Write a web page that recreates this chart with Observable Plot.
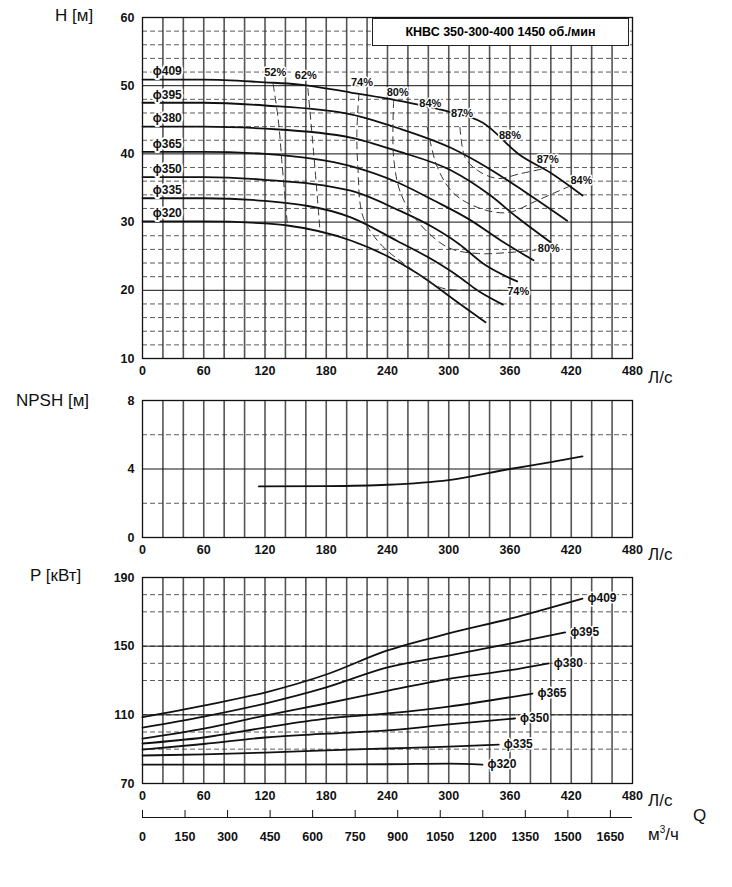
<!DOCTYPE html>
<html><head><meta charset="utf-8">
<script src="https://cdn.jsdelivr.net/npm/d3@7"></script>
<script src="https://cdn.jsdelivr.net/npm/@observablehq/plot@0.6"></script>
<style>
body{margin:0;background:#fff;font-family:"Liberation Sans",Arial,sans-serif}
#wrap{position:relative;width:732px;height:887px}
.p{position:absolute;left:0}
.lab{position:absolute;font-size:17px;color:#111;white-space:nowrap}
.box{position:absolute;left:372px;top:18px;width:255px;height:26px;border:1px solid #222;background:#fff;font-weight:bold;font-size:12.5px;line-height:26px;text-align:center}
</style></head><body><div id="wrap"></div>
<script>
const diameters = ["ϕ409","ϕ395","ϕ380","ϕ365","ϕ350","ϕ335","ϕ320"];
const headCurves = [
 [[0,50.9],[60,50.9],[120,50.5],[152,50.2],[204,49.0],[240,48.1],[300,46.2],[333,44.6],[370,39.8],[400,37.2],[431,33.9]],
 [[0,47.5],[60,47.5],[120,47.1],[204,45.8],[250,43.8],[302,40.9],[340,37.8],[373,34.6],[416,30.2]],
 [[0,44.0],[60,44.0],[120,43.7],[204,42.4],[250,40.4],[302,37.6],[340,34.0],[367,30.7],[400,27.0]],
 [[0,40.3],[60,40.3],[120,40.0],[204,38.2],[250,35.8],[285,33.2],[320,30.4],[351,27.3],[383,24.4]],
 [[0,36.6],[60,36.6],[120,36.2],[204,34.6],[250,31.8],[285,29.2],[310,26.8],[334,23.9],[367,21.3]],
 [[0,33.5],[60,33.5],[120,33.1],[204,30.7],[250,27.2],[285,24.4],[310,22.0],[328,20.0],[353,17.9]],
 [[0,30.1],[60,30.1],[120,29.8],[142,29.5],[204,27.3],[240,25.0],[269,22.5],[311,18.0],[336,15.3]]
];
const effNames = ["52%","62%","74%","80%","84%","87%"];
const effCurves = [
 [[128,50.2],[133,45],[137,38],[140,33],[142,29.4]],
 [[162,49.6],[166,43],[170,36],[174,28.5]],
 [[212,48.8],[210,43],[211,38],[216,30.8],[233,26.8],[260,23.5],[292,20.4],[320,20.0],[350,20.0]],
 [[246,47.8],[246,39.5],[253,34.2],[269,30.2],[299,26.3],[328,25.4],[355,25.5],[385,25.9]],
 [[279,43.9],[289,38],[305,34.2],[331,32.0],[358,31.4],[387,33.2],[416,35.1],[428,35.8]],
 [[311,43.9],[316,39.5],[328,37.6],[348,36.4],[370,37.1],[392,37.8]]
];
const effLabels = [["52%",130,51.9],["62%",160,51.5],["74%",215,50.5],["80%",250,49],["84%",282,47.4],["87%",313,45.9],["88%",360,42.7],["87%",397,39.2],["84%",430,36.1],["80%",398,26.1],["74%",368,19.8]];
const npsh = [[114,2.98],[180,3.0],[240,3.08],[300,3.35],[360,4.0],[400,4.4],[431,4.74]];
const powerCurves = [
 [[0,108.6],[60,115.4],[120,123],[180,133.5],[240,147.5],[300,157.4],[360,166],[431,177.7]],
 [[0,102.6],[60,109],[120,116.6],[180,126],[240,137.6],[300,144.5],[360,151.5],[414,158]],
 [[0,96.2],[60,102],[120,109.6],[180,116.6],[240,124],[300,131],[360,136],[398,140]],
 [[0,93.3],[60,96.8],[120,102.6],[180,107.8],[240,110.8],[300,114.8],[382,122.4]],
 [[0,89.8],[60,93],[120,96.8],[180,99],[240,100.9],[300,104.4],[365,107.9]],
 [[0,86.3],[60,87],[120,88],[180,89.3],[240,90.4],[300,91.5],[349,92.7]],
 [[0,81],[120,81],[240,81.2],[300,81.6],[333,81]]
];
const qTicks = d3.range(0,481,60);
const m3hTicks = d3.range(0,1651,150);

const W=732, ML=142, MR=100;
function grid(ymin,ymax,major,minor){
  return [
    Plot.ruleX(d3.range(20,480,20),{stroke:"#555",strokeWidth:1.6}),
    Plot.ruleY(d3.range(ymin,ymax+0.001,minor).filter(v=>Math.abs(v/major-Math.round(v/major))>1e-6),{stroke:"#333",strokeWidth:0.8,strokeDasharray:"5,3"}),
    Plot.ruleY(d3.range(ymin,ymax+0.001,major),{stroke:"#111",strokeWidth:1}),
    Plot.frame({stroke:"#111",strokeWidth:1.3})
  ];
}
const st={fontFamily:"Liberation Sans, Arial",fontWeight:"bold",fontSize:"12.5px",color:"#111",background:"transparent",overflow:"visible"};
function base(h,mt,mb,yd,yt){
  return {width:W,height:h,marginLeft:ML,marginRight:MR,marginTop:mt,marginBottom:mb,style:st,
    x:{domain:[0,480],ticks:qTicks,tickSize:0,label:null,tickPadding:8},
    y:{domain:yd,ticks:yt,tickSize:0,label:null,tickPadding:8}};
}
const wrap=document.getElementById("wrap");
function place(svg,top){svg.classList.add("p");svg.style.top=top+"px";wrap.appendChild(svg);}
const line = (d,o={})=>Plot.line(d,{x:d=>d[0],y:d=>d[1],curve:"monotone-x",stroke:"#111",strokeWidth:1.8,...o});

// Top
const headMarks = [...grid(10,60,10,2)];
headCurves.forEach(c=>headMarks.push(line(c)));
effCurves.forEach(c=>headMarks.push(line(c,{curve:"catmull-rom",strokeWidth:1,strokeDasharray:"7,5",stroke:"#333"})));
headMarks.push(Plot.text(diameters.map((n,i)=>({n,h:headCurves[i][0][1]})),{x:10,y:"h",text:"n",dy:-8,textAnchor:"start",fontWeight:"bold",fontSize:12,fill:"#111",stroke:"white",strokeWidth:4,paintOrder:"stroke"}));
headMarks.push(Plot.text(effLabels,{x:d=>d[1],y:d=>d[2],text:d=>d[0],fontWeight:"bold",fontSize:11,fill:"#111",stroke:"white",strokeWidth:3,paintOrder:"stroke"}));
place(Plot.plot({...base(380,17,22,[10,60],[10,20,30,40,50,60]),marks:headMarks}),0);

// NPSH
place(Plot.plot({...base(175,17,21,[0,8],[0,4,8]),marks:[...grid(0,8,4,2),line(npsh)]}),383);

// Power
const pMarks=[...grid(70,190,40,10)];
powerCurves.forEach(c=>pMarks.push(line(c)));
pMarks.push(Plot.text(diameters.map((n,i)=>({n,c:powerCurves[i][powerCurves[i].length-1]})),{x:d=>d.c[0],y:d=>d.c[1],text:"n",dx:5,textAnchor:"start",fontWeight:"bold",fontSize:12,fill:"#111",stroke:"white",strokeWidth:3,paintOrder:"stroke"}));
place(Plot.plot({...base(245,17,22,[70,190],[70,110,150,190]),marks:pMarks}),560);

// m3/h axis
const fmt=d3.format("d");
place(Plot.plot({width:W,height:40,marginLeft:ML,marginRight:MR,marginTop:12,marginBottom:25,style:st,
  x:{domain:[0,1728],ticks:m3hTicks,tickSize:-8,label:null,tickPadding:10,tickFormat:fmt},
  y:{domain:[0,1],axis:null},
  marks:[Plot.ruleY([1],{stroke:"#111",strokeWidth:1.2}),Plot.axisX({ticks:m3hTicks,tickSize:8,anchor:"top",label:null,tickFormat:()=>""}),Plot.axisX({ticks:m3hTicks,tickSize:0,anchor:"bottom",label:null,tickPadding:12,tickFormat:fmt,fontWeight:"bold"})]
}),805);

const labs=[["H [м]",55,6],["NPSH [м]",16,391],["P [кВт]",30,566],["Л/с",648,368],["Л/с",648,545],["Л/с",648,791],["Q",693,806]];
labs.forEach(([t,x,y])=>{const d=document.createElement("div");d.className="lab";d.textContent=t;d.style.left=x+"px";d.style.top=y+"px";wrap.appendChild(d);});
const m=document.createElement("div");m.className="lab";m.style.left="648px";m.style.top="824px";m.innerHTML="м<sup style='font-size:10px'>3</sup>/ч";wrap.appendChild(m);
const b=document.createElement("div");b.className="box";b.textContent="КНВС 350-300-400 1450 об./мин";wrap.appendChild(b);
</script></body></html>
